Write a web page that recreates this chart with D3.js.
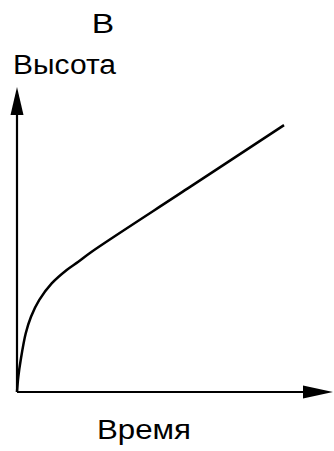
<!DOCTYPE html>
<html>
<head>
<meta charset="utf-8">
<script src="https://cdn.jsdelivr.net/npm/d3@7"></script>
<style>
  html, body { margin: 0; padding: 0; background: #fff; }
  svg { display: block; }
  text { font-family: "Liberation Sans", Arial, sans-serif; fill: #000; }
</style>
</head>
<body>
<svg id="chart" width="334" height="451"></svg>
<script>
// Height vs. time: steep initial rise that settles into a straight line
const timeValues   = [0, 0.41, 1.17, 2.75, 4.43, 7.06, 10.98, 15.73, 19.4, 23.64, 54.05, 84.5];
const heightValues = [0, 5.0, 10.5, 19.2, 24.7, 30.2, 35.6, 40.0, 42.7, 46.0, 66.75, 87.5];

const axisLabels = { x: "Время", y: "Высота" };
const panelLetter = "В";

const svg = d3.select("#chart");

const x = d3.scaleLinear().domain([0, 100]).range([17, 333]);
const y = d3.scaleLinear().domain([0, 100]).range([392, 87]);

// Axes: bare lines, no ticks
const xAxis = d3.axisBottom(x).ticks(0).tickSizeOuter(0);
const yAxis = d3.axisLeft(y).ticks(0).tickSizeOuter(0);

const gx = svg.append("g").attr("transform", `translate(0,${y(0)})`).call(xAxis);
const gy = svg.append("g").attr("transform", `translate(${x(0)},0)`).call(yAxis);
[gx, gy].forEach(g => g.select(".domain").attr("stroke", "#000").attr("stroke-width", 2.2));
// shorten the axis lines so they end inside the arrowheads
gx.select(".domain").attr("d", `M${x(0)},0H${x(96)}`);
gy.select(".domain").attr("d", `M0,${y(0)}V${y(94)}`);

// Arrowheads
const headLen = 30, headHalf = 6.5;
svg.append("path")
  .attr("d", `M${x(100)},${y(0)}L${x(100) - headLen},${y(0) - headHalf}L${x(100) - headLen},${y(0) + headHalf}Z`)
  .attr("fill", "#000");
svg.append("path")
  .attr("d", `M${x(0)},${y(100)}L${x(0) - headHalf},${y(100) + 28}L${x(0) + headHalf},${y(100) + 28}Z`)
  .attr("fill", "#000");

// Curve
const line = d3.line()
  .x((d, i) => x(timeValues[i]))
  .y((d, i) => y(heightValues[i]))
  .curve(d3.curveCatmullRom.alpha(0.5));

svg.append("path")
  .datum(timeValues)
  .attr("d", line)
  .attr("fill", "none")
  .attr("stroke", "#000")
  .attr("stroke-width", 2.5);

// Labels
svg.append("text")
  .attr("transform", "translate(103,33) scale(1.2,1)")
  .attr("text-anchor", "middle")
  .attr("font-size", 28)
  .text(panelLetter);

svg.append("text")
  .attr("x", 13).attr("y", 74)
  .attr("font-size", 27)
  .attr("textLength", 103).attr("lengthAdjust", "spacingAndGlyphs")
  .text(axisLabels.y);

svg.append("text")
  .attr("x", 97).attr("y", 439)
  .attr("font-size", 27)
  .attr("textLength", 94).attr("lengthAdjust", "spacingAndGlyphs")
  .text(axisLabels.x);
</script>
</body>
</html>
